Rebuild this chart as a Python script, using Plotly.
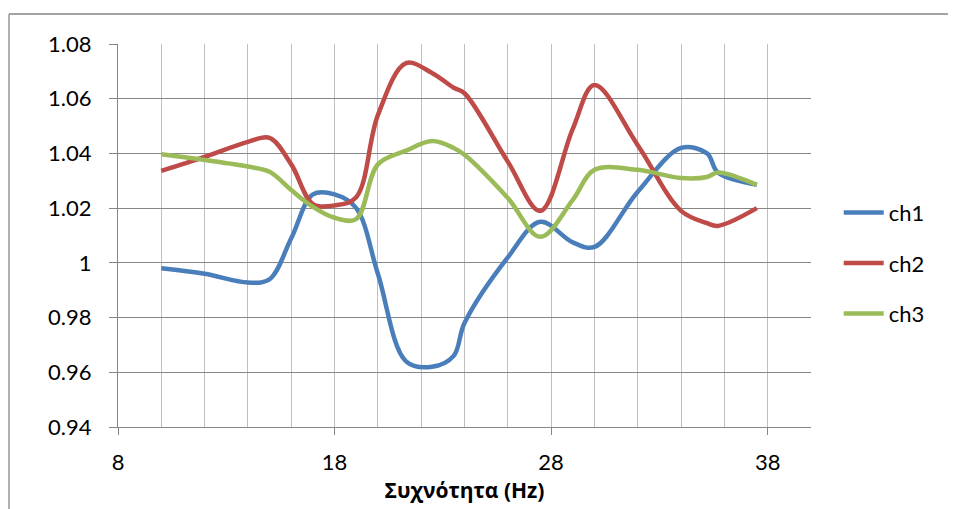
import plotly.graph_objects as go

freq = [10, 12, 14, 15, 16, 17, 18, 19, 20, 21.3, 22.5, 23.5, 24, 26, 27.5, 29, 30, 32, 34, 35.2, 35.7, 37.5]
ch1 = [0.998, 0.996, 0.9928, 0.994, 1.009, 1.025, 1.025, 1.020, 0.996, 0.964, 0.962, 0.966, 0.978, 1.002, 1.015,
       1.0075, 1.0058, 1.026, 1.042, 1.040, 1.033, 1.0285]
ch2 = [1.0336, 1.0387, 1.0442, 1.0457, 1.036, 1.0215, 1.021, 1.024, 1.054, 1.073, 1.0694, 1.064, 1.062, 1.037, 1.019,
       1.049, 1.065, 1.043, 1.019, 1.0145, 1.0135, 1.020]
ch3 = [1.0397, 1.0376, 1.0352, 1.0333, 1.0266, 1.0205, 1.0165, 1.016, 1.036, 1.041, 1.0445, 1.042, 1.0395, 1.0237,
       1.0095, 1.023, 1.034, 1.034, 1.031, 1.0314, 1.033, 1.0285]
series_names = ["ch1", "ch2", "ch3"]
colors = ["#4A7EBB", "#BE4B48", "#9BBB59"]
ytick_vals = [0.94, 0.96, 0.98, 1.0, 1.02, 1.04, 1.06, 1.08]
ytick_text = ["0.94", "0.96", "0.98", "1", "1.02", "1.04", "1.06", "1.08"]
xtick_vals = [8, 18, 28, 38]
x_title = "Συχνότητα (Hz)"

FONT = "Lato, 'Open Sans', sans-serif"

# page body has an 8px margin, so size the figure to land the plot area where the reference has it
OFF = 8
W, H = 956 - OFF, 509 - OFF
L, T, R, B = 118 - OFF, 44 - OFF, 956 - 811, 82

fig = go.Figure()
for name, ys, c in zip(series_names, [ch1, ch2, ch3], colors):
    fig.add_trace(go.Scatter(
        x=freq, y=ys, name=name, mode="lines", legendgroup=name,
        line=dict(color=c, width=4.5, shape="spline", smoothing=1.0),
    ))

pw, ph = 811 - 118, 427 - 44
bx0 = (9 - 118) / pw
bx1 = (960 - 118) / pw
by_top = (427 - 14) / ph
by_bot = (427 - 520) / ph
border = dict(color="#868686", width=1.3)
fig.update_layout(
    width=W, height=H,
    margin=dict(l=L, r=R, t=T, b=B),
    paper_bgcolor="white", plot_bgcolor="white",
    font=dict(family=FONT, size=22, color="black"),
    showlegend=True,
    legend=dict(x=1.04, xanchor="left", y=0.428, yanchor="middle",
                font=dict(size=22), tracegroupgap=19, itemwidth=40,
                bgcolor="rgba(0,0,0,0)"),
    shapes=[
        dict(type="line", xref="paper", yref="paper", x0=bx0, x1=bx1, y0=by_top, y1=by_top,
             line=border, layer="below"),
        dict(type="line", xref="paper", yref="paper", x0=bx0, x1=bx0, y0=by_bot, y1=by_top,
             line=border, layer="below"),
    ],
)

fig.update_xaxes(
    range=[8, 40], tickmode="array", tickvals=xtick_vals,
    ticks="outside", ticklen=7, tickcolor="#868686", tickwidth=1.3,
    showgrid=True, gridcolor="#BFBFBF", gridwidth=1.3,
    minor=dict(dtick=2, tick0=8, showgrid=True, gridcolor="#BFBFBF", gridwidth=1.3),
    showline=True, linecolor="#868686", linewidth=1.3,
    tickfont=dict(size=22), zeroline=False, ticklabelstandoff=8,
    title=dict(text="<b>" + x_title + "</b>",
               font=dict(size=21, family="'Open Sans', 'Noto Sans', sans-serif"), standoff=9),
)
fig.update_yaxes(
    range=[0.94, 1.08], tickmode="array", tickvals=ytick_vals, ticktext=ytick_text,
    ticks="outside", ticklen=8, tickcolor="#868686", tickwidth=1.3,
    showgrid=True, gridcolor="#868686", gridwidth=1.3,
    showline=True, linecolor="#868686", linewidth=1.3,
    tickfont=dict(size=22), zeroline=False, ticklabelstandoff=13,
)

fig.write_html("out.html")
